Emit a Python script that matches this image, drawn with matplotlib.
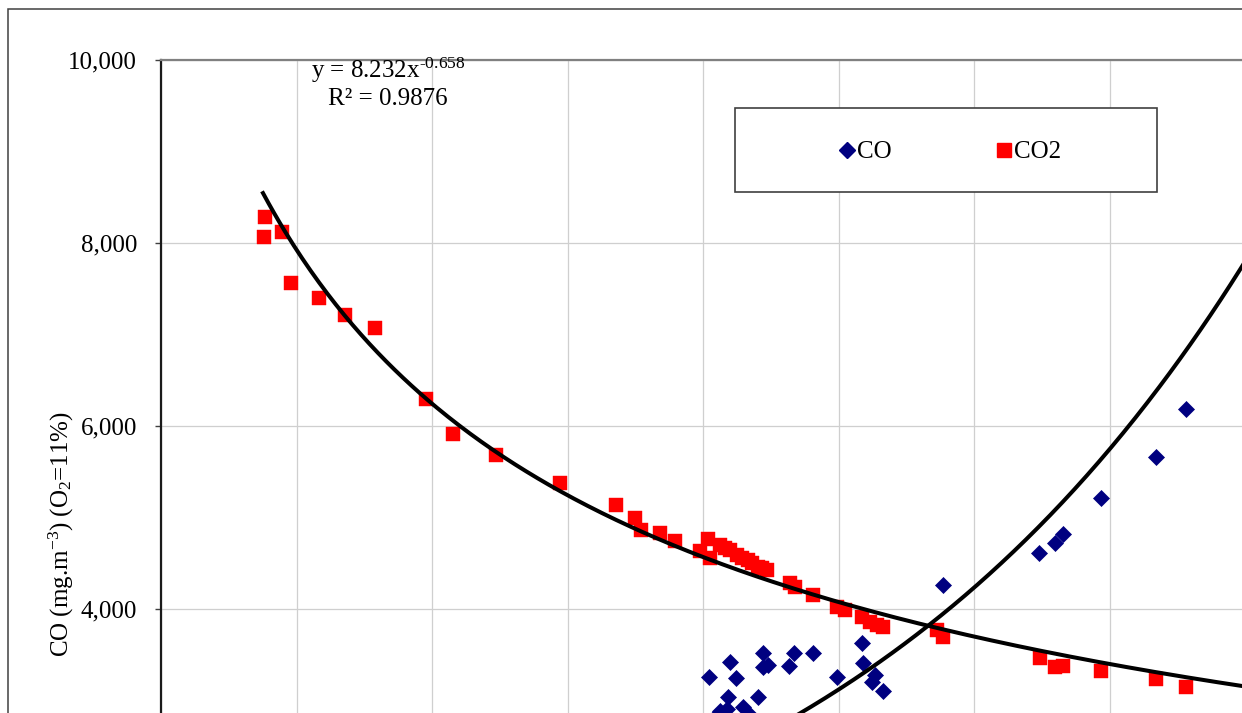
import numpy as np
import matplotlib
matplotlib.use('Agg')
import matplotlib.pyplot as plt
from matplotlib.ticker import FixedLocator, FuncFormatter, NullFormatter
from matplotlib.patches import Rectangle
from matplotlib.lines import Line2D

plt.rcParams['font.family'] = ['Liberation Serif', 'DejaVu Serif']
plt.rcParams['mathtext.fontset'] = 'custom'
plt.rcParams['mathtext.rm'] = 'Liberation Serif'
plt.rcParams['mathtext.it'] = 'Liberation Serif:italic'
plt.rcParams['mathtext.bf'] = 'Liberation Serif:bold'

# ---------------- data ----------------
co2_x = [0.952, 0.948, 1.010, 1.040, 1.136, 1.225, 1.327, 1.502, 1.594, 1.741,
         1.959, 2.150, 2.215, 2.236, 2.301, 2.352, 2.437, 2.465, 2.471, 2.506,
         2.523, 2.540, 2.564, 2.581, 2.601, 2.615, 2.635, 2.649, 2.666, 2.745,
         2.762, 2.823, 2.905, 2.932, 2.990, 3.018, 3.042, 3.062, 3.247, 3.267,
         3.598, 3.649, 3.677, 3.807, 3.994, 4.097]
co2_y = [8284, 8066, 8120, 7563, 7399, 7213, 7071, 6295, 5913, 5683,
         5377, 5137, 4995, 4863, 4831, 4743, 4634, 4765, 4557, 4699,
         4667, 4645, 4590, 4557, 4536, 4503, 4459, 4448, 4426, 4284,
         4240, 4153, 4022, 3989, 3913, 3858, 3825, 3803, 3770, 3694,
         3464, 3366, 3377, 3322, 3235, 3148]

co_x = [2.468, 2.540, 2.560, 2.652, 2.652, 2.669, 2.741, 2.758, 2.823, 2.533,
        2.635, 2.905, 2.990, 2.994, 3.035, 3.025, 3.062, 3.267, 3.595, 3.649,
        3.677, 3.807, 3.994, 4.097, 2.506, 2.529, 2.584, 2.601, 2.492, 2.932]
co_y = [3257, 3421, 3246, 3519, 3366, 3388, 3377, 3519, 3519, 3038,
        3038, 3257, 3628, 3410, 3279, 3202, 3104, 4262, 4612, 4721,
        4820, 5213, 5661, 6186, 2885, 2907, 2929, 2863, 2831, 2765]

# trendlines
co2_fit_a, co2_fit_b = 8232.0, -0.658      # power law  y = a x^b
co_fit_a, co_fit_b = 457.0, 0.66           # exponential y = a e^(b x)
eq_line1 = r'y = 8.232x$^{\text{-0.658}}$'
eq_line2 = 'R² = 0.9876'

y_ticks = [4000, 6000, 8000, 10000]
y_range = [0, 10000]
series_labels = ['CO', 'CO2']
y_label = r'CO (mg.m$^{-3}$) (O$_2$=11%)'

# ---------------- layout ----------------
W, H = 1242, 713
X_MIN, X_STEP, N_STEPS = 0.5965, 0.4627, 9
GRID_PX = 135.5
fig = plt.figure(figsize=(W / 100, H / 100), dpi=100)
fig.patch.set_facecolor('white')

ax_left_px, ax_top_px = 161, 60
ax_w_px = GRID_PX * N_STEPS
ax_h_px = 183 * 5
ax = fig.add_axes([ax_left_px / W, 1 - (ax_top_px + ax_h_px) / H,
                   ax_w_px / W, ax_h_px / H])

ax.set_xlim(X_MIN, X_MIN + N_STEPS * X_STEP)
ax.set_ylim(*y_range)

ax.xaxis.set_major_locator(FixedLocator([X_MIN + k * X_STEP for k in range(N_STEPS + 1)]))
ax.xaxis.set_major_formatter(NullFormatter())
ax.yaxis.set_major_locator(FixedLocator(y_ticks))
ax.yaxis.set_major_formatter(FuncFormatter(lambda v, p: f'{int(v):,}'))

ax.grid(True, color='#CFCFCF', lw=0.9)
ax.set_axisbelow(True)
ax.tick_params(axis='y', direction='out', length=4.3, width=1.0, color='#404040',
               pad=13, labelsize=18)
ax.tick_params(axis='x', length=0)
ax.spines['top'].set_color('#808080')
ax.spines['top'].set_linewidth(1.6)
ax.spines['left'].set_color('#1a1a1a')
ax.spines['left'].set_linewidth(1.6)
ax.spines['right'].set_visible(False)
ax.spines['bottom'].set_visible(False)

# scatter series
ax.plot(co_x, co_y, linestyle='none', marker='D', ms=8, color='#000080',
        mec='#000080', mew=0.5, zorder=3)
ax.plot(co2_x, co2_y, linestyle='none', marker='s', ms=10.5, color='#FF0000',
        mec='#FF0000', mew=0.3, zorder=3)

# trendlines
xf1 = np.linspace(min(co2_x) - 0.0032, X_MIN + N_STEPS * X_STEP, 400)
ax.plot(xf1, co2_fit_a * xf1 ** co2_fit_b, color='black', lw=2.9, zorder=4)
xf2 = np.linspace(2.0, X_MIN + N_STEPS * X_STEP, 400)
ax.plot(xf2, co_fit_a * np.exp(co_fit_b * xf2), color='black', lw=2.9, zorder=4)

# equation text
fig.text(388 / W, 1 - 78 / H, eq_line1, ha='center', va='baseline', fontsize=18, zorder=6)
fig.text(388 / W, 1 - 105 / H, eq_line2, ha='center', va='baseline', fontsize=18, zorder=6)

# y label
ax.set_ylabel(y_label, fontsize=18)
ax.yaxis.set_label_coords(76 / W, 1 - 534 / H, transform=fig.transFigure)

# legend box + legend
fig.patches.append(Rectangle((735 / W, 1 - 192 / H), 422 / W, 84 / H,
                             transform=fig.transFigure, facecolor='white',
                             edgecolor='#404040', lw=1.2, zorder=2))
handles = [Line2D([], [], linestyle='none', marker='D', ms=8, color='#000080'),
           Line2D([], [], linestyle='none', marker='s', ms=10.5, color='#FF0000')]
fig.legend(handles, series_labels, loc='center', bbox_to_anchor=(950 / W, 1 - 152 / H),
           ncol=2, frameon=False, fontsize=18, handlelength=0.6, handletextpad=0.1,
           columnspacing=4.2, borderpad=0)

# outer chart frame
fig.patches.append(Rectangle((7.5 / W, -0.2), 2.0, (H - 8.5) / H + 0.2,
                             transform=fig.transFigure, fill=False,
                             edgecolor='#404040', lw=1.1, zorder=1))

fig.savefig('out.png', dpi=100)
